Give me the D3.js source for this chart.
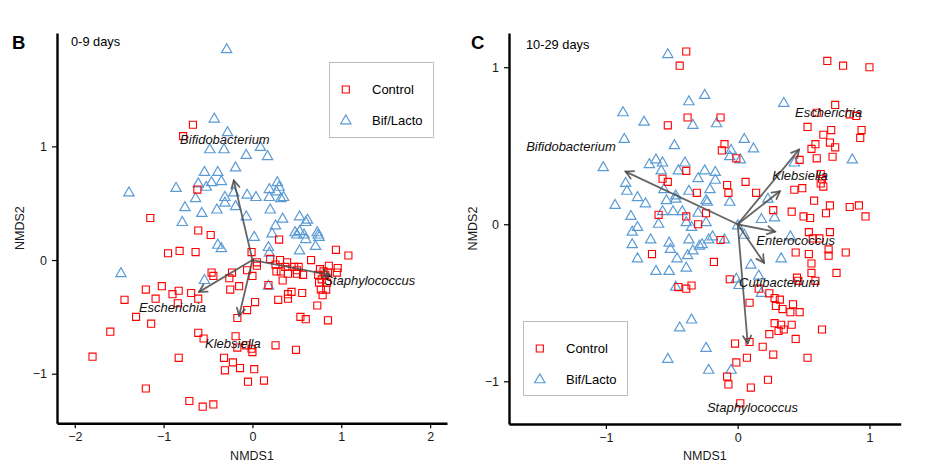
<!DOCTYPE html>
<html>
<head>
<meta charset="utf-8">
<script src="https://cdn.jsdelivr.net/npm/d3@7"></script>
<style>
  html, body { margin: 0; padding: 0; background: #fff; }
  svg { display: block; font-family: "Liberation Sans", Arial, sans-serif; }
</style>
</head>
<body>
<svg id="chart" width="934" height="471"></svg>
<script>
// ---------------- DATA ----------------
const groups = ["Control", "Bif/Lacto"];

// Panel B (0-9 days) NMDS scores [NMDS1, NMDS2]
const b_control = [
  [-0.67,1.19],[-0.78,1.09],[-0.62,0.62],[-1.15,0.37],[-0.61,0.26],[-0.47,0.22],[0.30,0.18],
  [-0.95,0.06],[-0.82,0.08],[-0.64,0.07],[-0.01,0.07],[0.05,-0.02],[0.05,-0.05],[0.20,0.01],
  [0.31,0.00],[0.39,-0.02],[0.37,-0.06],[0.47,-0.06],[0.66,0.00],[0.94,0.09],[1.08,0.04],
  [-0.46,-0.11],[-0.44,-0.14],[-0.26,-0.16],[-0.23,-0.11],[-0.06,-0.09],[0.00,-0.14],
  [0.27,-0.10],[0.32,-0.10],[0.40,-0.12],[0.50,-0.12],[0.50,-0.09],[0.57,-0.13],[0.34,-0.18],
  [0.18,-0.22],[-0.25,-0.26],[-0.15,-0.23],[0.44,-0.28],[0.56,-0.29],[0.40,-0.30],[0.40,-0.34],
  [0.29,-0.35],[0.03,-0.37],[-0.06,-0.44],[-0.17,-0.51],[-0.61,-0.34],[-0.69,-0.29],[-0.83,-0.27],
  [-0.90,-0.30],[-1.02,-0.23],[-1.20,-0.26],[-1.09,-0.34],[-1.44,-0.35],[-0.84,-0.38],[-1.31,-0.50],
  [-1.14,-0.56],[-1.60,-0.63],[-1.80,-0.85],[-1.20,-1.13],[-0.61,-0.64],[-0.55,-0.69],[-0.19,-0.67],
  [-0.17,-0.77],[-0.07,-0.75],[-0.01,-0.78],[0.00,-0.81],[-0.83,-0.86],[-0.32,-0.86],[-0.22,-0.90],
  [-0.14,-0.95],[-0.31,-0.97],[0.02,-0.96],[0.26,-0.75],[0.49,-0.79],[-0.05,-1.07],[0.13,-1.06],
  [-0.71,-1.24],[-0.56,-1.29],[-0.44,-1.27],[0.76,-0.08],[0.80,-0.10],[0.86,-0.05],[0.96,-0.07],
  [0.95,-0.11],[0.74,-0.13],[0.78,-0.17],[0.75,-0.20],[0.84,-0.20],[0.77,-0.26],[0.83,-0.26],
  [0.79,-0.31],[0.73,-0.40],[0.54,-0.50],[0.60,-0.52],[0.85,-0.53],[0.85,-0.11],[0.82,-0.13],
  [0.26,-0.04],[0.52,-0.06]
];
const b_biflacto = [
  [-0.29,1.85],[-0.43,1.24],[-0.28,1.12],[-0.48,0.97],[-0.32,0.97],[-0.07,0.92],[0.17,0.91],
  [0.09,0.99],[-0.19,0.81],[-0.54,0.77],[-0.39,0.77],[-0.46,0.68],[-0.35,0.69],[-0.61,0.67],
  [-0.52,0.64],[-0.86,0.63],[-1.39,0.59],[-0.64,0.54],[-0.31,0.55],[-0.21,0.59],[-0.06,0.57],
  [0.04,0.55],[0.19,0.62],[0.28,0.68],[0.30,0.64],[0.27,0.60],[0.32,0.54],[0.19,0.55],
  [-0.76,0.46],[-0.57,0.41],[-0.40,0.44],[-0.19,0.47],[-0.31,0.50],[0.20,0.44],[-0.07,0.38],
  [-0.79,0.33],[0.34,0.36],[0.26,0.30],[0.53,0.38],[0.62,0.35],[0.60,0.33],[0.02,0.20],
  [0.22,0.23],[0.48,0.24],[0.53,0.25],[0.58,0.22],[0.73,0.24],[0.75,0.20],[-0.39,0.13],
  [-0.35,0.10],[0.18,0.11],[0.19,0.06],[0.53,0.08],[0.71,0.12],[-1.48,-0.12],[-0.54,-0.18],
  [0.18,-0.23],[0.50,0.22],[0.60,0.18],[0.74,0.22],[0.35,0.55]
];
const b_taxa = ["Bifidobacterium", "Escherichia", "Klebsiella", "Staphylococcus"];
const b_vecX = [-0.21, -0.60, -0.15, 0.87];
const b_vecY = [0.70, -0.28, -0.49, -0.13];
const b_labX = [-0.31, -0.90, -0.22, 1.32];
const b_labY = [1.06, -0.42, -0.73, -0.18];

// Panel C (10-29 days)
const c_control = [
  [-0.39,1.10],[-0.44,1.01],[-0.53,0.63],[-0.38,0.68],[-0.13,0.68],[-0.10,0.51],[-0.12,0.47],
  [-0.01,0.42],[-0.39,0.34],[-0.57,0.29],[-0.53,0.27],[-0.31,0.20],[-0.08,0.25],[-0.07,0.20],
  [0.06,0.27],[0.14,0.20],[0.27,0.09],[0.41,0.08],[-0.60,0.06],[-0.39,0.05],[-0.24,0.07],
  [-0.30,0.00],[0.68,1.04],[0.80,1.01],[1.00,1.00],[0.74,0.76],[0.60,0.71],[0.85,0.70],
  [0.90,0.69],[0.53,0.62],[0.94,0.60],[0.93,0.55],[0.65,0.57],[0.71,0.60],[0.70,0.52],
  [0.59,0.51],[0.74,0.49],[0.56,0.48],[0.60,0.42],[0.72,0.43],[0.47,0.41],[0.63,0.32],
  [0.64,0.29],[0.63,0.26],[0.65,0.24],[0.43,0.22],[0.49,0.23],[0.58,0.15],[0.70,0.12],
  [0.85,0.11],[0.92,0.12],[0.97,0.05],[0.50,0.05],[0.55,0.04],[0.67,0.07],[-0.13,-0.10],
  [-0.18,-0.24],[-0.06,-0.35],[0.09,-0.50],[0.16,-0.41],[0.24,-0.44],[0.28,-0.47],[0.32,-0.48],
  [0.29,-0.52],[0.34,-0.54],[0.40,-0.56],[0.42,-0.51],[0.47,-0.56],[0.28,-0.63],[0.33,-0.64],
  [0.35,-0.67],[0.31,-0.68],[0.41,-0.64],[0.24,-0.70],[0.64,-0.67],[0.44,-0.73],[-0.02,-0.76],
  [0.09,-0.75],[0.19,-0.78],[0.27,-0.83],[0.07,-0.85],[-0.01,-0.88],[0.53,-0.85],[-0.08,-0.97],
  [-0.07,-1.02],[0.23,-0.99],[0.10,-1.04],[0.02,-1.14],[0.54,-0.05],[0.70,-0.05],[0.57,-0.09],
  [0.62,-0.09],[0.44,-0.18],[0.54,-0.19],[0.69,-0.16],[0.69,-0.20],[0.82,-0.18],[0.56,-0.25],
  [0.56,-0.31],[0.75,-0.31],[0.45,-0.34],[0.46,-0.36],[0.59,-0.36],[-0.65,-0.19],[-0.45,-0.40],
  [-0.39,-0.41],[-0.35,-0.39]
];
const c_biflacto = [
  [-0.53,1.08],[-0.37,0.78],[-0.25,0.82],[-0.87,0.71],[-0.71,0.65],[-0.34,0.63],[-0.16,0.64],
  [0.35,0.77],[-0.86,0.54],[-0.48,0.50],[-0.05,0.47],[0.05,0.54],[0.12,0.48],[-0.06,0.43],
  [0.02,0.41],[0.87,0.41],[0.43,0.39],[-1.02,0.36],[-0.67,0.38],[-0.62,0.41],[-0.57,0.39],
  [-0.58,0.34],[-0.45,0.34],[-0.40,0.39],[-0.25,0.34],[-0.17,0.33],[-0.30,0.29],[-0.17,0.28],
  [-0.85,0.26],[-0.84,0.21],[-0.76,0.17],[-0.70,0.13],[-0.93,0.12],[-0.56,0.22],[-0.47,0.18],
  [-0.37,0.21],[-0.21,0.22],[-0.54,0.15],[-0.47,0.16],[-0.24,0.15],[-0.23,0.14],[-0.06,0.14],
  [0.23,0.16],[-0.49,0.08],[-0.42,0.08],[-0.57,0.08],[-0.30,0.07],[-0.81,0.05],[-0.76,-0.02],
  [-0.60,0.00],[-0.39,0.01],[-0.35,-0.02],[-0.24,0.01],[0.00,-0.01],[0.18,0.03],[0.28,0.04],
  [-0.80,-0.05],[-0.66,-0.10],[-0.52,-0.12],[-0.37,-0.10],[-0.29,-0.14],[-0.22,-0.10],[-0.19,-0.08],
  [-0.10,-0.10],[-0.80,-0.13],[-0.51,-0.16],[-0.76,-0.22],[-0.62,-0.30],[-0.52,-0.30],[-0.46,-0.22],
  [-0.38,-0.20],[-0.34,-0.17],[-0.39,-0.28],[-0.47,-0.40],[-0.35,-0.61],[-0.44,-0.66],[-0.24,-0.79],
  [-0.53,-0.86],[-0.22,-0.93],[-0.05,-0.93],[0.10,-0.26],[0.33,-0.22],[-0.01,-0.35],[0.01,-0.39],
  [0.16,-0.33],[0.18,-0.44],[0.05,-0.07],[0.40,-0.08],[-0.27,-0.13]
];
const c_taxa = ["Bifidobacterium", "Escherichia", "Klebsiella", "Enterococcus", "Cutibacterium", "Staphylococcus"];
const c_vecX = [-0.85, 0.465, 0.32, 0.283, 0.20, 0.076];
const c_vecY = [0.335, 0.475, 0.21, -0.047, -0.245, -0.758];
const c_labX = [-1.265, 0.69, 0.474, 0.44, 0.315, 0.112];
const c_labY = [0.497, 0.709, 0.31, -0.10, -0.372, -1.166];

const b_ticksX = [-2, -1, 0, 1, 2];
const b_ticksY = [-1, 0, 1];
const c_ticksX = [-1, 0, 1];
const c_ticksY = [-1, 0, 1];

// ---------------- DRAWING ----------------
const svg = d3.select("#chart");
const RED = "#ff0000", BLUE = "#5b9bd5", ARROW = "#4a4a4a";
const sqSym = d3.symbol().type(d3.symbolSquare).size(50);
const triSym = d3.symbol().type(d3.symbolTriangle).size(46);
const tickFmt = d3.format("d");

function drawPanel(o) {
  const g = svg.append("g");
  const x = d3.scaleLinear().domain(o.xDom).range(o.xRange);
  const y = d3.scaleLinear().domain(o.yDom).range(o.yRange);

  // points
  g.append("g").selectAll("path").data(o.bif).join("path")
    .attr("d", triSym)
    .attr("transform", d => `translate(${x(d[0])},${y(d[1])})`)
    .attr("fill", "none").attr("stroke", BLUE).attr("stroke-width", 1.2);
  g.append("g").selectAll("path").data(o.control).join("path")
    .attr("d", sqSym)
    .attr("transform", d => `translate(${x(d[0])},${y(d[1])})`)
    .attr("fill", "none").attr("stroke", RED).attr("stroke-width", 1.1);

  // arrows
  const ox = x(0), oy = y(0);
  const vec = o.taxa.map((t, i) => ({ t, vx: o.vecX[i], vy: o.vecY[i], lx: o.labX[i], ly: o.labY[i] }));
  const ag = g.append("g").attr("stroke", ARROW).attr("stroke-width", 1.8)
    .attr("fill", "none").attr("stroke-opacity", 0.85).attr("stroke-linecap", "round");
  vec.forEach(v => {
    const ex = x(v.vx), ey = y(v.vy);
    const a = Math.atan2(ey - oy, ex - ox), L = 8.5, phi = 0.5;
    ag.append("line").attr("x1", ox).attr("y1", oy).attr("x2", ex).attr("y2", ey);
    ag.append("path").attr("d",
      `M${ex - L * Math.cos(a - phi)},${ey - L * Math.sin(a - phi)}L${ex},${ey}L${ex - L * Math.cos(a + phi)},${ey - L * Math.sin(a + phi)}`);
  });
  g.append("g").selectAll("text").data(vec).join("text")
    .attr("x", d => x(d.lx)).attr("y", d => y(d.ly)).attr("dy", "0.35em")
    .attr("text-anchor", "middle").attr("font-style", "italic")
    .attr("font-size", 13).attr("fill", "#111").text(d => d.t);

  // axes
  const xa = g.append("g").attr("transform", `translate(0,${o.yRange[0]})`)
    .call(d3.axisBottom(x).tickValues(o.ticksX).tickFormat(tickFmt).tickSize(5).tickPadding(4).tickSizeOuter(0));
  const ya = g.append("g").attr("transform", `translate(${o.xRange[0]},0)`)
    .call(d3.axisLeft(y).tickValues(o.ticksY).tickFormat(tickFmt).tickSize(5).tickPadding(5).tickSizeOuter(0));
  [xa, ya].forEach(a => {
    a.select(".domain").attr("stroke", "#000").attr("stroke-width", 2.4);
    a.selectAll(".tick line").attr("stroke", "#000").attr("stroke-width", 1.2);
    a.selectAll(".tick text").attr("font-size", 12.5).attr("fill", "#1a1a1a")
      .attr("font-family", "'Liberation Sans', Arial, sans-serif");
  });

  // axis titles
  const xm = (o.xRange[0] + o.xRange[1]) / 2, ym = (o.yRange[0] + o.yRange[1]) / 2;
  g.append("text").attr("x", xm).attr("y", 460).attr("text-anchor", "middle")
    .attr("font-size", 12.5).attr("fill", "#1a1a1a").text("NMDS1");
  g.append("text").attr("transform", `translate(${o.yTitleX},${ym}) rotate(-90)`)
    .attr("text-anchor", "middle").attr("dy", "0.35em")
    .attr("font-size", 12.5).attr("fill", "#1a1a1a").text("NMDS2");

  // panel letter and day label
  g.append("text").attr("x", o.letterX).attr("y", 49).attr("font-size", 18.5)
    .attr("font-weight", "bold").attr("fill", "#000").text(o.letter);
  g.append("text").attr("x", o.dayX).attr("y", o.dayY).attr("font-size", 12.8)
    .attr("fill", "#000").text(o.days);

  // legend
  const lg = g.append("g");
  lg.append("rect").attr("x", o.leg[0]).attr("y", o.leg[1]).attr("width", 104).attr("height", o.leg[2])
    .attr("fill", "#fff").attr("stroke", "#bdbdbd").attr("stroke-width", 1);
  groups.forEach((name, i) => {
    const cy = o.leg[1] + 27 + i * 31.3;
    lg.append("path").attr("d", i === 0 ? sqSym : triSym)
      .attr("transform", `translate(${o.leg[0] + 16.3},${cy})`)
      .attr("fill", "none").attr("stroke", i === 0 ? RED : BLUE).attr("stroke-width", i === 0 ? 1.1 : 1.2);
    lg.append("text").attr("x", o.leg[0] + 42.5).attr("y", cy).attr("dy", "0.35em")
      .attr("font-size", 13).attr("fill", "#000").text(name);
  });
}

drawPanel({
  xDom: [-2.2, 2.19], yDom: [-1.436, 1.997], xRange: [57, 447], yRange: [423.3, 33],
  ticksX: b_ticksX, ticksY: b_ticksY, control: b_control, bif: b_biflacto,
  taxa: b_taxa, vecX: b_vecX, vecY: b_vecY, labX: b_labX, labY: b_labY,
  yTitleX: 20, letter: "B", letterX: 12, days: "0-9 days", dayX: 71, dayY: 46,
  leg: [329.5, 62.5, 75]
});
drawPanel({
  xDom: [-1.735, 1.237], yDom: [-1.272, 1.218], xRange: [509, 900.7], yRange: [424, 33],
  ticksX: c_ticksX, ticksY: c_ticksY, control: c_control, bif: c_biflacto,
  taxa: c_taxa, vecX: c_vecX, vecY: c_vecY, labX: c_labX, labY: c_labY,
  yTitleX: 473, letter: "C", letterX: 471, days: "10-29 days", dayX: 526, dayY: 48.5,
  leg: [523.5, 321.5, 74]
});
</script>
</body>
</html>
